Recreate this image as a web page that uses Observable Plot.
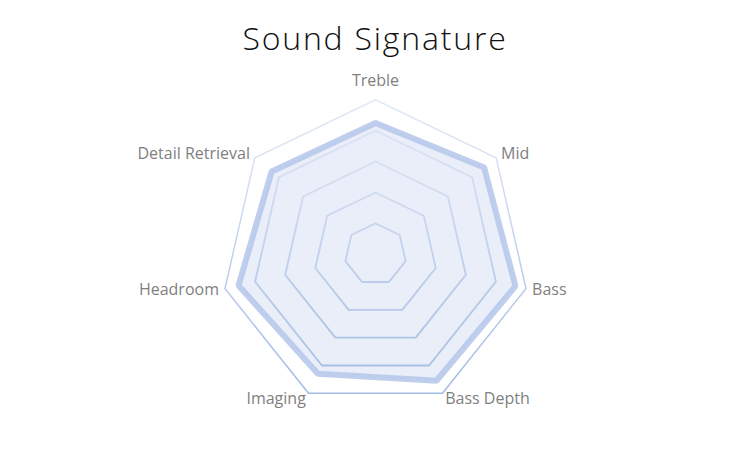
<!DOCTYPE html>
<html>
<head>
<meta charset="utf-8">
<script src="https://cdn.jsdelivr.net/npm/d3@7"></script>
<script src="https://cdn.jsdelivr.net/npm/@observablehq/plot@0.6"></script>
<style>
  html, body { margin: 0; padding: 0; background: #fff; }
  #title { height: 52px; padding-top: 12px; line-height: 52px; text-align: center;
           font-family: "Open Sans", sans-serif; font-weight: 300; font-size: 32px;
           letter-spacing: 1.8px; color: #111; }
</style>
</head>
<body>
<div id="title">Sound Signature</div>
<div id="chart"></div>
<script>
const axes = ["Treble", "Mid", "Bass", "Bass Depth", "Imaging", "Headroom", "Detail Retrieval"];
const scores = [8.5, 9.0, 9.3, 9.1, 8.6, 9.1, 8.6];
const levels = [2, 4, 6, 8, 10];
const maxLevel = 10;

const n = axes.length;
const ang = i => 2 * Math.PI * i / n;
const px = (r, i) => r * Math.sin(ang(i));
const py = (r, i) => r * Math.cos(ang(i));

const ringPts = levels.flatMap(l => axes.map((a, i) => ({level: l, x: px(l, i), y: py(l, i)})));
const outerPts = ringPts.filter(d => d.level === maxLevel);
const innerPts = ringPts.filter(d => d.level !== maxLevel);
const dataPts = axes.map((a, i) => ({axis: a, x: px(scores[i], i), y: py(scores[i], i)}));
const labelR = 10.4;
const labelPts = axes.map((a, i) => {
  const s = Math.sin(ang(i));
  return {axis: a, x: px(labelR, i), y: py(labelR, i) + (i === 0 ? 0.8 : 0),
          anchor: s > 0.1 ? "start" : s < -0.1 ? "end" : "middle"};
});

const H = 386;
const unit = 15.44;
const cy = 189.7;
const font = {fill: "#7f7f7f", fontSize: 16, fontFamily: "Open Sans, sans-serif"};
const chart = Plot.plot({
  width: 750,
  height: H,
  margin: 0,
  x: {domain: [-375 / unit, 375 / unit], axis: null},
  y: {domain: [-(H - cy) / unit, cy / unit], axis: null},
  marks: [
    Plot.line(dataPts, {x: "x", y: "y", curve: "linear-closed", fill: "#e9eef8", stroke: "none"}),
    Plot.line(outerPts, {x: "x", y: "y", z: "level", curve: "linear-closed", stroke: "url(#ringGrad)", strokeWidth: 1.5}),
    Plot.line(innerPts, {x: "x", y: "y", z: "level", curve: "linear-closed", stroke: "url(#ringGrad)", strokeWidth: 1.8}),
    Plot.line(dataPts, {x: "x", y: "y", curve: "linear-closed", stroke: "#b4c6ea", strokeOpacity: 0.85, strokeWidth: 6, strokeLinejoin: "miter"}),
    Plot.text(labelPts.filter(d => d.anchor === "start"), {x: "x", y: "y", text: "axis", textAnchor: "start", ...font}),
    Plot.text(labelPts.filter(d => d.anchor === "end"), {x: "x", y: "y", text: "axis", textAnchor: "end", ...font}),
    Plot.text(labelPts.filter(d => d.anchor === "middle"), {x: "x", y: "y", text: "axis", textAnchor: "middle", ...font})
  ]
});
const yTop = chart.scale("y").apply(maxLevel);
const yBot = chart.scale("y").apply(-maxLevel * Math.cos(Math.PI / n));
chart.insertAdjacentHTML("afterbegin",
  `<defs><linearGradient id="ringGrad" gradientUnits="userSpaceOnUse" x1="0" y1="${yTop}" x2="0" y2="${yBot}">
     <stop offset="0" stop-color="#e2e9f6"/>
     <stop offset="1" stop-color="#a3bbe3"/>
   </linearGradient></defs>`);
document.getElementById("chart").appendChild(chart);
</script>
</body>
</html>
